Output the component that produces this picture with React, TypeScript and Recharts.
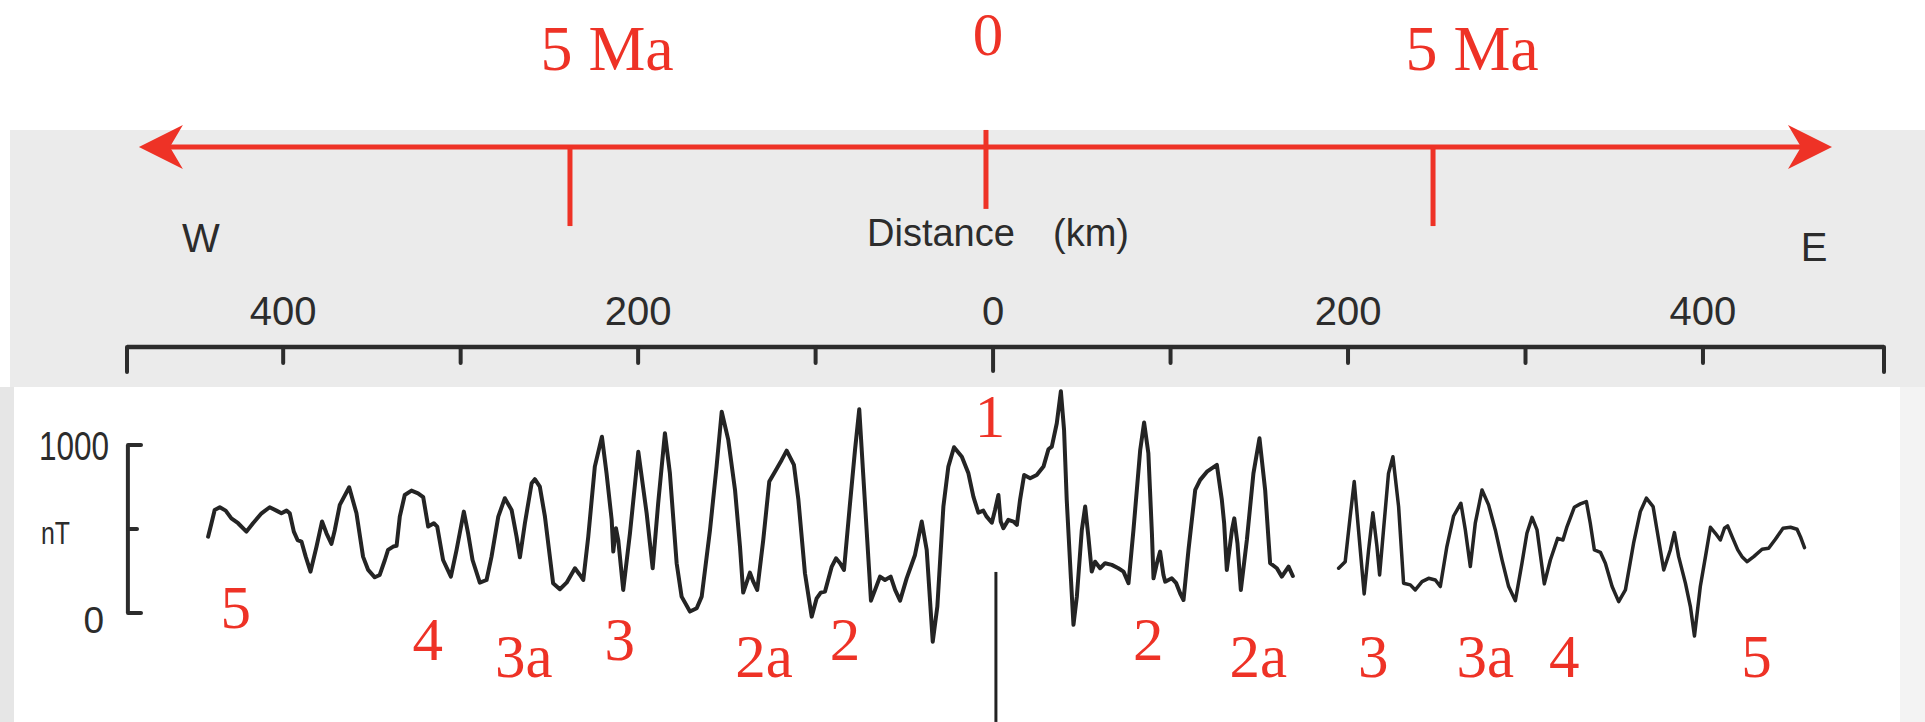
import React from 'react';
import {
  ComposedChart,
  Line,
  Scatter,
  XAxis,
  YAxis,
  ReferenceLine,
  ReferenceDot,
} from 'recharts';

type Pt = { km: number; nT: number };
const toPts = (arr: number[][]): Pt[] => arr.map(([km, nT]) => ({ km, nT }));

// Magnetic anomaly profile, west of the ridge axis (km, nT)
const westProfile: Pt[] = toPts([
  [-442.3, 454], [-440.4, 534], [-438.6, 613], [-435.7, 629], [-432.4, 609], [-429.2, 563],
  [-425.4, 534], [-420.7, 484], [-417.0, 534], [-412.2, 593], [-407.6, 629], [-403.8, 609],
  [-401.0, 593], [-398.1, 609], [-396.3, 593], [-394.0, 484], [-391.9, 434], [-389.7, 425],
  [-387.3, 335], [-384.6, 246], [-381.2, 395], [-378.1, 544], [-375.6, 474], [-372.8, 411],
  [-370.9, 494], [-368.1, 643], [-362.8, 748], [-358.7, 593], [-355.0, 335], [-352.1, 256],
  [-348.4, 212], [-345.6, 226], [-342.7, 315], [-340.9, 375], [-338.0, 395], [-336.1, 399],
  [-334.3, 573], [-331.5, 702], [-327.7, 728], [-324.0, 712], [-321.1, 689], [-318.3, 514],
  [-315.1, 534], [-313.2, 514], [-309.9, 315], [-305.5, 216], [-302.3, 375], [-298.2, 603],
  [-295.8, 474], [-293.3, 315], [-289.2, 180], [-285.4, 196], [-282.6, 335], [-278.8, 573],
  [-275.1, 683], [-271.3, 613], [-268.5, 454], [-266.6, 331], [-263.8, 534], [-260.0, 772],
  [-258.2, 796], [-255.4, 752], [-252.5, 573], [-247.9, 177], [-244.1, 141], [-240.3, 180],
  [-235.6, 266], [-232.8, 226], [-230.9, 196], [-228.1, 454], [-224.4, 871], [-220.4, 1049],
  [-217.8, 831], [-214.9, 554], [-214.0, 365], [-212.5, 504], [-211.2, 434], [-208.4, 137],
  [-204.6, 474], [-199.9, 960], [-195.2, 593], [-191.8, 266], [-188.7, 653], [-184.9, 1070],
  [-182.1, 831], [-178.3, 296], [-175.5, 97], [-170.8, 8], [-167.0, 28], [-164.2, 97],
  [-159.5, 494], [-155.8, 871], [-152.9, 1198], [-149.2, 1030], [-145.4, 732], [-142.6, 395],
  [-140.8, 121], [-137.0, 240], [-135.1, 186], [-132.9, 137], [-129.5, 434], [-126.1, 782],
  [-122.9, 841], [-119.1, 911], [-116.3, 966], [-112.2, 881], [-109.7, 673], [-106.0, 236],
  [-102.2, -22], [-99.4, 87], [-97.1, 121], [-94.7, 127], [-90.9, 276], [-88.5, 325],
  [-86.2, 296], [-84.0, 256], [-80.6, 653], [-77.8, 970], [-75.4, 1212], [-73.1, 811],
  [-70.9, 434], [-68.8, 73], [-66.5, 137], [-63.7, 216], [-60.9, 196], [-57.7, 216],
  [-55.2, 137], [-52.4, 73], [-48.7, 206], [-44.0, 345], [-40.2, 544], [-37.4, 375],
  [-34.0, -171], [-31.4, 38], [-28.0, 633], [-25.2, 871], [-22.0, 986], [-17.6, 930],
  [-13.9, 831], [-11.1, 692], [-8.3, 597], [-5.5, 609], [-3.6, 573], [-0.7, 537],
  [1.1, 613], [3.0, 702], [4.3, 544], [5.8, 504], [8.6, 554], [11.5, 544],
  [13.4, 524], [15.2, 673], [17.5, 821], [20.9, 802], [24.6, 821], [28.4, 871],
  [31.2, 974], [33.1, 990], [35.9, 1129], [38.2, 1320], [40.0, 1089], [41.5, 673],
  [43.8, 216], [45.3, -71], [47.2, 97], [50.0, 494], [51.9, 633], [53.7, 454],
  [55.6, 246], [57.5, 305], [60.3, 266], [63.1, 296], [66.9, 286], [70.6, 266],
  [73.5, 246], [76.3, 177], [79.1, 494], [82.9, 970], [85.1, 1133], [87.5, 950],
  [89.5, 474], [90.4, 206], [92.3, 296], [94.1, 365], [96.0, 226], [97.0, 186],
  [100.7, 206], [103.2, 177], [105.4, 117], [107.3, 77], [110.1, 375], [113.9, 732],
  [116.7, 792], [120.5, 841], [126.1, 881], [128.9, 673], [130.2, 534], [131.7, 256],
  [134.6, 494], [135.9, 563], [137.7, 415], [139.6, 137], [143.0, 434], [146.7, 831],
  [150.1, 1040], [153.3, 732], [156.1, 296], [159.9, 266], [162.7, 216], [164.6, 246],
  [166.5, 276], [168.9, 220],
]);

// Magnetic anomaly profile, east section (km, nT)
const eastProfile: Pt[] = toPts([
  [194.7, 266], [198.4, 305], [201.2, 573], [203.5, 782], [205.9, 494], [209.1, 113],
  [211.6, 375], [214.0, 597], [216.3, 395], [217.8, 226], [220.0, 494], [222.8, 831],
  [225.3, 930], [228.5, 633], [231.3, 177], [235.1, 167], [237.9, 137], [241.7, 186],
  [245.4, 206], [249.2, 196], [252.0, 157], [255.7, 395], [259.5, 577], [263.6, 653],
  [266.1, 494], [268.9, 276], [271.7, 534], [275.5, 732], [279.2, 643], [283.0, 494],
  [286.8, 315], [290.5, 157], [294.3, 73], [298.0, 296], [300.8, 474], [303.7, 569],
  [306.5, 494], [310.6, 173], [314.0, 315], [318.1, 444], [321.1, 434], [323.4, 514],
  [327.5, 629], [330.9, 649], [334.3, 663], [336.5, 534], [338.8, 375], [342.2, 361],
  [345.0, 296], [348.8, 157], [352.5, 67], [356.3, 137], [360.9, 415], [364.7, 603],
  [368.1, 683], [371.9, 633], [374.1, 494], [377.9, 256], [381.6, 375], [383.9, 478],
  [386.3, 335], [390.1, 177], [392.9, 38], [395.2, -137], [398.5, 157], [401.4, 335],
  [404.2, 510], [407.0, 474], [409.8, 434], [412.1, 504], [413.9, 518], [416.4, 454],
  [419.6, 375], [422.0, 335], [424.9, 305], [428.6, 335], [433.3, 379], [437.0, 385],
  [440.8, 439], [445.1, 504], [449.3, 510], [453.0, 498], [454.9, 454], [457.2, 389],
]);

// Distance axis (km): tick positions and labelled ticks
const distanceTicks = [-488, -400, -300, -200, -100, 0, 100, 200, 300, 400, 502];
const distanceLabels = [-400, -200, 0, 200, 400];

// Anomaly scale bar (nT)
const nTTicks = [0, 500, 1000];
const nTTickText: Record<number, string> = { 0: '0', 500: 'nT', 1000: '1000' };

// Magnetic chron identifications (km, nT anchor)
const chronNames = ['5', '4', '3a', '3', '2a', '2', '1', '2', '2a', '3', '3a', '4', '5'];
const chronKm = [-426.7, -318.5, -264.4, -210.3, -129.1, -83.4, -1.7, 87.4, 149.4, 214.2, 277.3, 321.9, 430.1];
const chronNT = [-90, -280, -381, -280, -381, -280, 1047, -280, -381, -381, -381, -381, -381];
const chronLabels = chronNames.map((name, i) => ({ name, km: chronKm[i], nT: chronNT[i] }));

// Age scale (Ma) annotation: tick positions in km and their labels
const ageTickKm = [-238.4, -4.0, 247.9];
const ageLabelText = ['5 Ma', '0', '5 Ma'];
const ageLabelKm = [-217.5, -2.9, 269.9];

// ---------- layout / style ----------
const W = 1925;
const H = 722;
const RED = '#ee3226';
const INK = '#2c2c2c';
const SANS = "'Liberation Sans', Arial, Helvetica, sans-serif";
const SERIF = "'Liberation Serif', 'Times New Roman', serif";
const X_DOMAIN: [number, number] = [-488, 502];
const Y_DOMAIN: [number, number] = [-560, 1583];
const DIST_TICK_MARGIN = 22;
const NT_TICK_MARGIN = 18;

// annotation heights expressed in the nT scale of the chart
const ARROW_NT = 2774;
const AGE_TICK_BOTTOM_NT = 2303;
const ZERO_TICK_TOP_NT = 2875;
const ZERO_TICK_BOTTOM_NT = 2405;
const AGE_LABEL_NT = 3232;
const ZERO_LABEL_NT = 3321;
const ARROW_LEFT_KM = -481.3;
const ARROW_RIGHT_KM = 472.7;
const CENTER_MARK_KM = 1.6;
const SCALEBAR_KM = -487.5;

const DistanceTick = (props: any) => {
  const { x, y, payload } = props;
  const v = payload.value;
  const axisY = y + DIST_TICK_MARGIN;
  const isEnd = v === distanceTicks[0] || v === distanceTicks[distanceTicks.length - 1];
  const len = isEnd ? 25 : v === 0 ? 24 : 16;
  return (
    <g>
      <line x1={x} y1={axisY} x2={x} y2={axisY + len} stroke={INK} strokeWidth={4} strokeLinecap="round" />
      {distanceLabels.includes(v) && (
        <text x={x} y={y} textAnchor="middle" fontFamily={SANS} fontSize={40} fill={INK}>
          {Math.abs(v)}
        </text>
      )}
    </g>
  );
};

const NtTick = (props: any) => {
  const { x, y, payload } = props;
  const v = payload.value;
  const axisX = x + NT_TICK_MARGIN;
  const serif = v === 500 ? 10 : 14;
  let label: React.ReactNode = null;
  if (v === 1000) {
    label = (
      <text x={x} y={y + 15} textAnchor="end" fontFamily={SANS} fontSize={40} fill={INK} textLength={70} lengthAdjust="spacingAndGlyphs">
        {nTTickText[v]}
      </text>
    );
  } else if (v === 500) {
    label = (
      <text x={x - 39} y={y + 15} textAnchor="end" fontFamily={SANS} fontSize={31} fill={INK} textLength={29} lengthAdjust="spacingAndGlyphs">
        {nTTickText[v]}
      </text>
    );
  } else {
    label = (
      <text x={x - 5} y={y + 20} textAnchor="end" fontFamily={SANS} fontSize={37} fill={INK}>
        {nTTickText[v]}
      </text>
    );
  }
  return (
    <g>
      <line x1={axisX + 1} y1={y} x2={axisX + serif} y2={y} stroke={INK} strokeWidth={4} strokeLinecap="round" />
      {label}
    </g>
  );
};

const AxisTitle = (props: any) => {
  const vb = props.viewBox || { x: 127, y: 287, width: 1757, height: 60 };
  const axisY = vb.y + vb.height;
  return (
    <g fontFamily={SANS} fill={INK}>
      <text x={vb.x + 74} y={axisY - 95} textAnchor="middle" fontSize={40}>W</text>
      <text x={vb.x + 740} y={axisY - 101} fontSize={38}>Distance</text>
      <text x={vb.x + 926} y={axisY - 101} fontSize={38}>(km)</text>
      <text x={vb.x + vb.width - 70} y={axisY - 86} textAnchor="middle" fontSize={40}>E</text>
    </g>
  );
};

const ArrowShape = (props: any) => {
  const { x1, y1, x2, y2 } = props;
  const head = 44;
  const half = 22;
  const notch = 31;
  return (
    <g>
      <line x1={x1 + notch} y1={y1} x2={x2 - notch} y2={y2} stroke={RED} strokeWidth={5} />
      <polygon points={`${x1},${y1} ${x1 + head},${y1 - half} ${x1 + notch},${y1} ${x1 + head},${y1 + half}`} fill={RED} />
      <polygon points={`${x2},${y2} ${x2 - head},${y2 - half} ${x2 - notch},${y2} ${x2 - head},${y2 + half}`} fill={RED} />
    </g>
  );
};

const ChronText = (p: any) => (
  <text x={p.cx} y={p.cy} textAnchor="middle" fontFamily={SERIF} fontSize={61} fill={RED}>
    {p.payload.name}
  </text>
);

const makeAgeText = (text: string, size: number) => (p: any) => (
  <text x={p.cx} y={p.cy} textAnchor="middle" fontFamily={SERIF} fontSize={size} fill={RED}>
    {text}
  </text>
);

export default function App() {
  return (
    <div style={{ position: 'absolute', left: 0, top: 0, width: W, height: H, background: '#ffffff', overflow: 'hidden' }}>
      <div style={{ position: 'absolute', left: 10, top: 130, width: W - 10, height: 257, background: '#ebebeb' }} />
      <div style={{ position: 'absolute', left: 0, top: 387, width: 14, height: H - 387, background: '#e6e6e6' }} />
      <div style={{ position: 'absolute', left: 1900, top: 387, width: W - 1900, height: H - 387, background: '#f3f3f3' }} />
      <div style={{ position: 'absolute', left: 0, top: 0 }}>
        <ComposedChart width={W} height={H} margin={{ top: 287, right: 41, bottom: 15, left: 0 }}>
          <XAxis
            dataKey="km"
            type="number"
            orientation="top"
            domain={X_DOMAIN}
            allowDataOverflow
            ticks={distanceTicks}
            interval={0}
            height={60}
            tickSize={0}
            tickMargin={DIST_TICK_MARGIN}
            tick={DistanceTick}
            tickLine={false}
            axisLine={{ stroke: INK, strokeWidth: 4.5 }}
            label={AxisTitle}
          />
          <YAxis
            dataKey="nT"
            type="number"
            domain={Y_DOMAIN}
            allowDataOverflow
            ticks={nTTicks}
            interval={0}
            width={127}
            tickSize={0}
            tickMargin={NT_TICK_MARGIN}
            tick={NtTick}
            tickLine={false}
            axisLine={false}
          />
          <ReferenceLine
            segment={[{ x: SCALEBAR_KM, y: 0 }, { x: SCALEBAR_KM, y: 1000 }]}
            stroke={INK}
            strokeWidth={4}
            ifOverflow="visible"
          />
          <Line data={westProfile} dataKey="nT" type="linear" stroke="#242424" strokeWidth={4} strokeLinejoin="round" strokeLinecap="round" dot={false} isAnimationActive={false} />
          <Line data={eastProfile} dataKey="nT" type="linear" stroke="#242424" strokeWidth={3.5} strokeLinejoin="round" strokeLinecap="round" dot={false} isAnimationActive={false} />
          <ReferenceLine
            segment={[{ x: CENTER_MARK_KM, y: 244 }, { x: CENTER_MARK_KM, y: -649 }]}
            stroke="#222"
            strokeWidth={3}
            ifOverflow="visible"
          />
          <Scatter data={chronLabels} dataKey="nT" shape={ChronText} isAnimationActive={false} />
          <ReferenceLine
            segment={[{ x: ARROW_LEFT_KM, y: ARROW_NT }, { x: ARROW_RIGHT_KM, y: ARROW_NT }]}
            ifOverflow="visible"
            shape={ArrowShape}
          />
          {ageTickKm.map((km, i) => (
            <ReferenceLine
              key={`age-tick-${i}`}
              segment={
                i === 1
                  ? [{ x: km, y: ZERO_TICK_TOP_NT }, { x: km, y: ZERO_TICK_BOTTOM_NT }]
                  : [{ x: km, y: ARROW_NT }, { x: km, y: AGE_TICK_BOTTOM_NT }]
              }
              stroke={RED}
              strokeWidth={5}
              ifOverflow="visible"
            />
          ))}
          {ageLabelKm.map((km, i) => (
            <ReferenceDot
              key={`age-label-${i}`}
              x={km}
              y={i === 1 ? ZERO_LABEL_NT : AGE_LABEL_NT}
              r={0}
              ifOverflow="visible"
              shape={makeAgeText(ageLabelText[i], i === 1 ? 61 : 64)}
            />
          ))}
        </ComposedChart>
      </div>
    </div>
  );
}
